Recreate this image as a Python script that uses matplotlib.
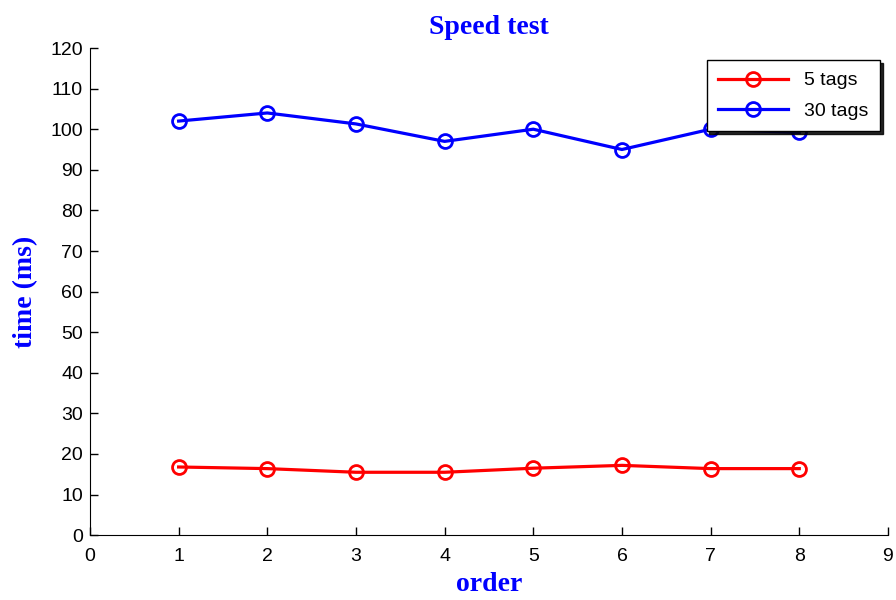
import matplotlib.pyplot as plt

# data
order = [1, 2, 3, 4, 5, 6, 7, 8]
tags_5 = [16.8, 16.4, 15.5, 15.5, 16.5, 17.2, 16.4, 16.4]
tags_30 = [102, 104, 101.3, 97, 100, 95, 100, 99.2]

plt.rcParams['xtick.direction'] = 'in'
plt.rcParams['ytick.direction'] = 'in'

fig = plt.figure(figsize=(8.96, 6), dpi=100)
ax = fig.add_axes([0.1004, 0.108, 0.8906, 0.812])

ax.plot(order, tags_5, color='red', lw=2.3, marker='o', ms=10,
        mfc='none', mew=2, label='5 tags')
ax.plot(order, tags_30, color='blue', lw=2.3, marker='o', ms=10,
        mfc='none', mew=2, label='30 tags')

ax.set_xlim(0, 9)
ax.set_ylim(0, 120)
ax.set_xticks(range(0, 10))
ax.set_yticks(range(0, 121, 10))

# matlab-ish look: only left and bottom axes, ticks inside
ax.spines['top'].set_visible(False)
ax.spines['right'].set_visible(False)
ax.tick_params(axis='both', direction='in', length=6, width=1, labelsize=14)
ax.tick_params(axis='x', pad=9)
ax.tick_params(axis='y', pad=5)
for lab in ax.get_xticklabels() + ax.get_yticklabels():
    lab.set_family('Liberation Sans')

ax.set_title('Speed test', family='Liberation Serif', fontweight='bold',
             color='blue', fontsize=20, pad=10)
ax.set_xlabel('order', family='Liberation Serif', fontweight='bold',
              color='blue', fontsize=20, labelpad=5)
ax.set_ylabel('time (ms)', family='Liberation Serif', fontweight='bold',
              color='blue', fontsize=20, labelpad=9)

leg = ax.legend(loc='upper right', bbox_to_anchor=(0.99, 0.975),
                borderaxespad=0,
                prop={'family': 'Liberation Sans', 'size': 14},
                fancybox=False, edgecolor='black', framealpha=1,
                handlelength=3.6, borderpad=0.6, labelspacing=0.65,
                handletextpad=0.8,
                shadow={'color': 'black', 'alpha': 0.85})
leg.get_frame().set_linewidth(1.0)

fig.savefig('out.png', dpi=100)
